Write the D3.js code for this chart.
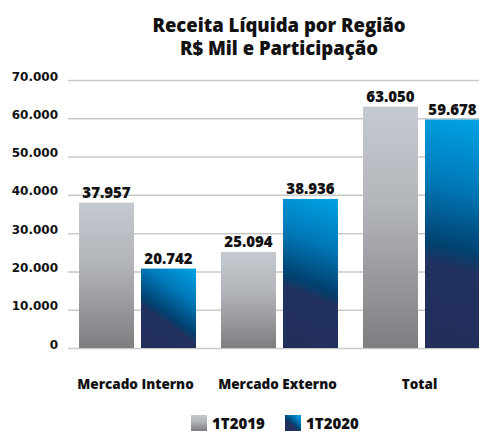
<!doctype html>
<html lang="pt">
  <head>
    <meta charset="utf-8">
    <script src="https://cdn.jsdelivr.net/npm/d3@7"></script>
    <style>
      body {margin:0; background:#fff}
      svg {display:block}
      .title {font-family:"Open Sans", sans-serif; font-weight:800; font-size:18.5px; fill:#111}
      .tick-label {font-family:"DejaVu Sans", sans-serif; font-weight:700; font-size:12px; fill:#111}
      .val {font-family:"Open Sans", sans-serif; font-weight:800; font-size:15px; fill:#111}
      .cat {font-family:"Open Sans", sans-serif; font-weight:800; font-size:13.5px; fill:#111}
      .leg {font-family:"Open Sans", sans-serif; font-weight:800; font-size:15px; fill:#111}
    </style>
    <title>Receita Líquida por Região</title>
  </head>
  <body>
    <script>
      // dados
      let categories = ["Mercado Interno", "Mercado Externo", "Total"];
      let series = ["1T2019", "1T2020"];
      let values2019 = [37957, 25094, 63050];
      let values2020 = [20742, 38936, 59678];
      let yTicks = [0, 10000, 20000, 30000, 40000, 50000, 60000, 70000];
      let titleLines = ["Receita Líquida por Região", "R$ Mil e Participação"];

      let w = 479, h = 431;

      let locale = d3.formatLocale({decimal:",", thousands:".", grouping:[3], currency:["R$",""]});
      let fmt = locale.format(",.0f");

      let data = categories.map((c, i) => ({cat:c, vals:[values2019[i], values2020[i]]}));

      let svg = d3.select("body").append("svg")
        .attr("width", w)
        .attr("height", h);

      let defs = svg.append("defs");

      let gray = defs.append("linearGradient")
        .attr("id", "gray")
        .attr("x1", 0).attr("y1", 0).attr("x2", 0).attr("y2", 1);
      gray.append("stop").attr("offset", 0).attr("stop-color", "#c4cad0");
      gray.append("stop").attr("offset", 0.4).attr("stop-color", "#b3b6bb");
      gray.append("stop").attr("offset", 1).attr("stop-color", "#7e7e82");

      // gradiente azul diagonal, um por barra (canto sup. direito -> canto inf. esquerdo)
      // coordenadas no sistema local do elemento que usa o gradiente
      function blueGrad(id, x0, y0, x1, y1) {
        let g = defs.append("linearGradient")
          .attr("id", id)
          .attr("gradientUnits", "userSpaceOnUse")
          .attr("x1", x0).attr("y1", y0).attr("x2", x1).attr("y2", y1);
        g.append("stop").attr("offset", 0).attr("stop-color", "#00a3e6");
        g.append("stop").attr("offset", 0.3).attr("stop-color", "#0078b8");
        g.append("stop").attr("offset", 0.56).attr("stop-color", "#00416f");
        g.append("stop").attr("offset", 0.64).attr("stop-color", "#22315f");
        g.append("stop").attr("offset", 1).attr("stop-color", "#232e5a");
        return "url(#" + id + ")";
      }

      let x = d3.scaleBand()
        .domain(categories)
        .range([66.5, 492.5])
        .paddingInner(0.176)
        .paddingOuter(0.088);

      let xSub = d3.scaleBand()
        .domain(series)
        .range([0, x.bandwidth()])
        .paddingInner(0.113);

      let y = d3.scaleLinear()
        .domain([0, 70000])
        .range([348, 80]);

      // linhas de grade
      let yAxis = d3.axisLeft(y).tickValues(yTicks).tickSize(-(w - 68)).tickFormat("");
      let ga = svg.append("g")
        .attr("transform", "translate(68,0)")
        .call(yAxis);
      ga.select(".domain").remove();
      ga.selectAll(".tick line").attr("stroke", "#c9c9c9").attr("stroke-width", 1.5);

      svg.append("g").selectAll("text")
        .data(yTicks)
        .enter()
        .append("text")
        .attr("class", "tick-label")
        .attr("x", 58)
        .attr("y", d => y(d))
        .attr("dy", "0.05em")
        .attr("text-anchor", "end")
        .text(d => fmt(d));

      let groups = svg.selectAll(".grp")
        .data(data)
        .enter()
        .append("g")
        .attr("class", "grp")
        .attr("transform", d => "translate(" + x(d.cat) + ",0)");

      groups.each(function(d, i) {
        let g = d3.select(this);
        d.vals.forEach((v, j) => {
          let bx = xSub(series[j]);
          let top = y(v), bot = y(0), bw = xSub.bandwidth();
          let fill = j === 0 ? "url(#gray)"
            : blueGrad("blue" + i, bx + bw, top, bx, bot);
          g.append("rect")
            .attr("x", bx)
            .attr("y", top)
            .attr("width", bw)
            .attr("height", bot - top)
            .attr("fill", fill);
          g.append("text")
            .attr("class", "val")
            .attr("x", bx + bw / 2)
            .attr("y", top - 5)
            .attr("text-anchor", "middle")
            .text(fmt(v));
        });
      });

      svg.append("g").selectAll("text")
        .data(categories)
        .enter()
        .append("text")
        .attr("class", "cat")
        .attr("x", d => x(d) + x.bandwidth() / 2 - 2)
        .attr("y", 389)
        .attr("text-anchor", "middle")
        .text(d => d);

      svg.append("g").selectAll("text")
        .data(titleLines)
        .enter()
        .append("text")
        .attr("class", "title")
        .attr("x", 279)
        .attr("y", (d, i) => 32 + i * 23)
        .attr("text-anchor", "middle")
        .text(d => d);

      // legenda
      let legX = [191, 285];
      let leg = svg.append("g").selectAll("g")
        .data(series)
        .enter()
        .append("g")
        .attr("transform", (d, i) => "translate(" + legX[i] + ",415)");
      leg.append("rect")
        .attr("width", 16)
        .attr("height", 16)
        .attr("fill", (d, i) => i === 0 ? "url(#gray)" : blueGrad("blueLeg", 16, 0, 2, 16));
      leg.append("text")
        .attr("class", "leg")
        .attr("x", 21)
        .attr("y", 13.5)
        .text(d => d);
    </script>
  </body>
</html>
